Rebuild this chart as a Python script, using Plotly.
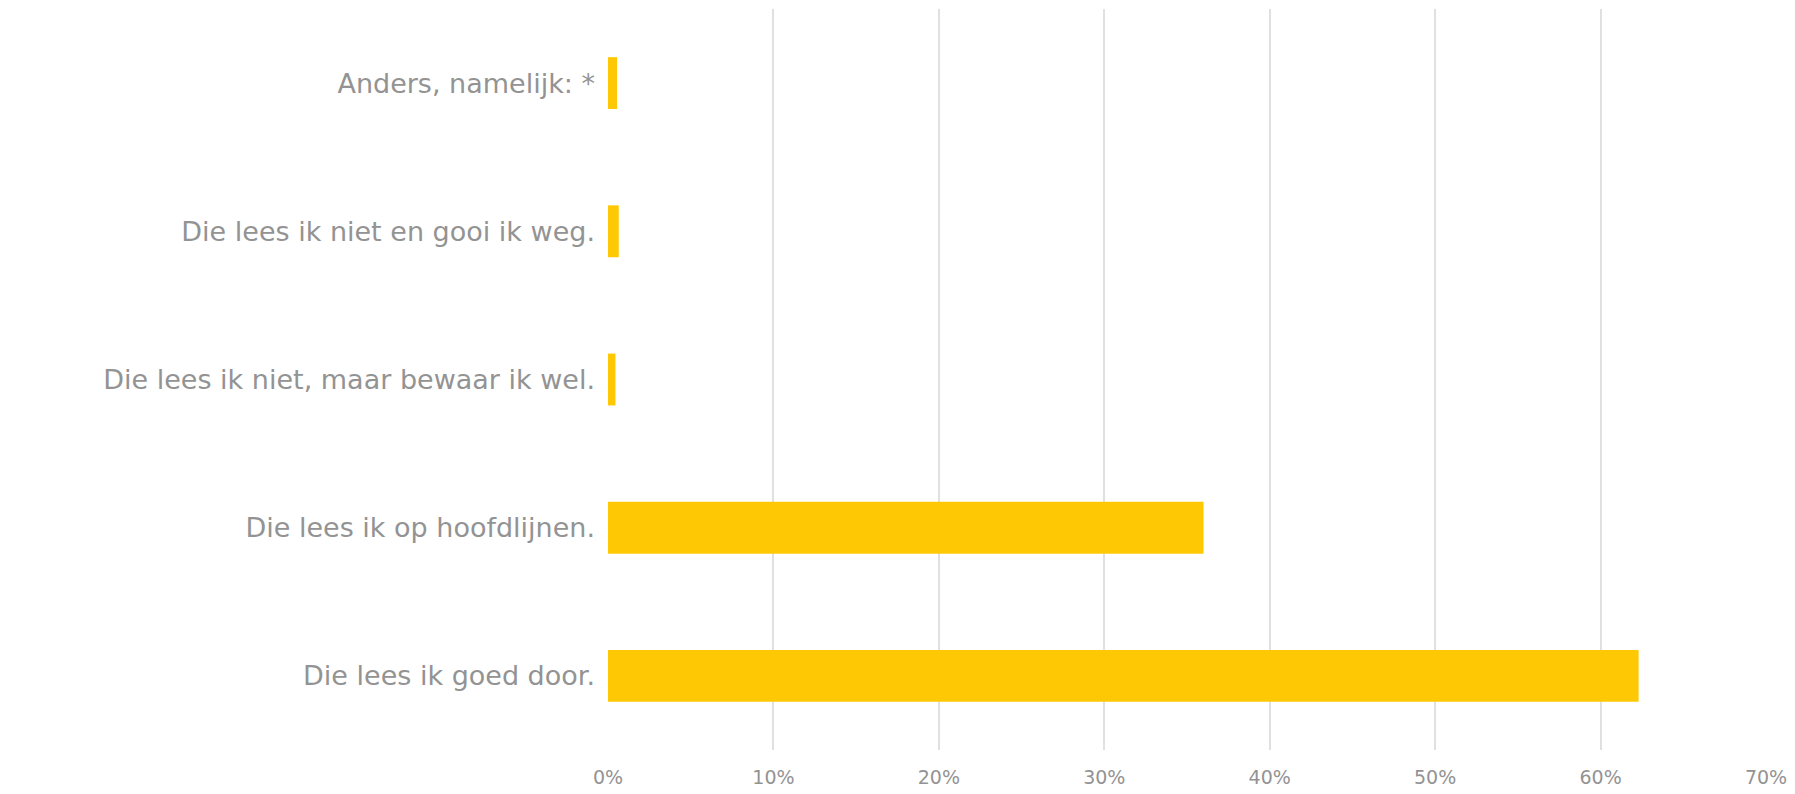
import plotly.graph_objects as go

categories = [
    "Die lees ik goed door.",
    "Die lees ik op hoofdlijnen.",
    "Die lees ik niet, maar bewaar ik wel.",
    "Die lees ik niet en gooi ik weg.",
    "Anders, namelijk: *",
]
values = [62.3, 36.0, 0.45, 0.65, 0.55]
tick_vals = [0, 10, 20, 30, 40, 50, 60, 70]
tick_text = ["0%", "10%", "20%", "30%", "40%", "50%", "60%", "70%"]

fig = go.Figure(
    go.Bar(
        x=values,
        y=categories,
        orientation="h",
        marker=dict(color="#FFC804", line=dict(width=0)),
        hoverinfo="x+y",
    )
)

fig.update_layout(
    width=1795,
    height=794,
    margin=dict(l=600, r=37, t=1, b=52),
    paper_bgcolor="white",
    plot_bgcolor="white",
    bargap=0.65,
    showlegend=False,
    font=dict(family="DejaVu Sans", color="#939393"),
)
fig.update_xaxes(
    range=[0, 70],
    tickvals=tick_vals,
    ticktext=tick_text,
    showgrid=True,
    gridcolor="#E0E0E0",
    gridwidth=1.5,
    zeroline=False,
    showline=False,
    ticks="",
    ticklabelstandoff=14,
    tickfont=dict(size=19, color="#939393"),
)
fig.update_yaxes(
    range=[-0.5, 4.5],
    showgrid=False,
    zeroline=False,
    showline=False,
    ticks="",
    ticklabelstandoff=12,
    tickfont=dict(size=27, color="#939393"),
)

fig.write_html("out.html")
